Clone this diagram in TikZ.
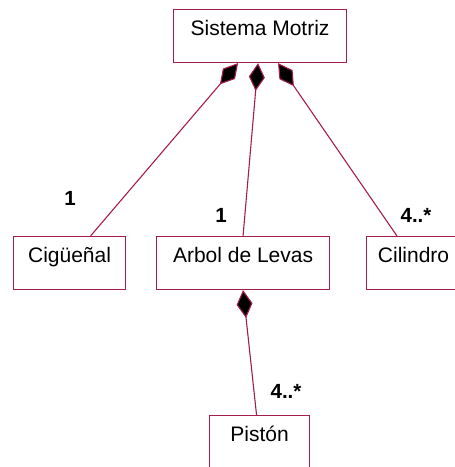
\documentclass[tikz,border=0pt]{standalone}
\usepackage{fontspec}
\setmainfont{Liberation Sans}
\usetikzlibrary{arrows.meta,positioning}
\definecolor{umlred}{RGB}{165,30,75}

\begin{document}
\begin{tikzpicture}[x=1pt,y=-1pt,
    clase/.style={draw=umlred,line width=1.1pt,rectangle,anchor=north west,inner sep=0pt,
      minimum height=53pt,text height=26pt,text depth=27pt,font=\fontsize{21}{25}\selectfont},
    mult/.style={anchor=base,inner sep=0pt,font=\fontsize{20.5}{24}\selectfont\bfseries},
    comp/.style={draw=umlred,line width=1.1pt,{Diamond[length=28pt,width=16pt,fill=black]}-}]
      \useasboundingbox (0,0) rectangle (455,467);
      \node[clase,minimum width=173pt] (sm) at (173,9) {Sistema Motriz};
      \node[clase,minimum width=112pt] (cig) at (13,236) {Cigüeñal};
      \node[clase,minimum width=173pt] (arbol) at (156,236) {Arbol de Levas};
      \node[clase,minimum width=104pt] (cil) at (366,236) {Cilindro\hspace*{10pt}};
      \node[clase,minimum width=100pt] (piston) at (209,415) {Pistón};
      \draw[comp] ([xshift=-22pt]sm.south) -- ([xshift=21pt]cig.north);
      \draw[comp] ([xshift=-2pt]sm.south) -- (arbol.north);
      \draw[comp] ([xshift=18pt]sm.south) -- ([xshift=31pt]cil.north west);
      \draw[comp] (arbol.south) -- ([xshift=-3pt]piston.north);
      \node[mult] (m1) at (70,205) {1};
      \node[mult] (m2) at (221,222) {1};
      \node[mult] (m3) at (416,222) {4..*};
      \node[mult] (m4) at (286,398) {4..*};
    \end{tikzpicture}
\end{document}
